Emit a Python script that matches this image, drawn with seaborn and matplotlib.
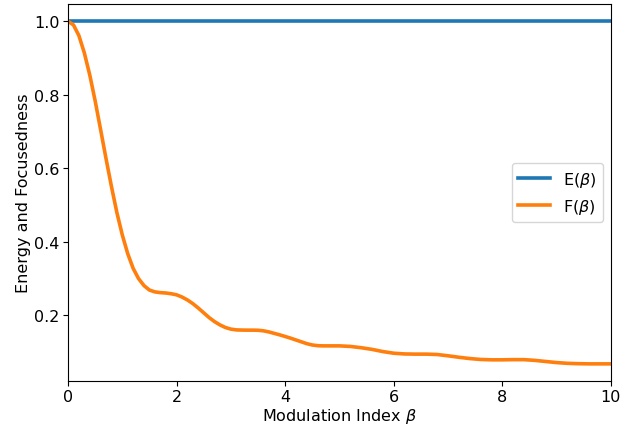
import matplotlib
matplotlib.use("Agg")
import matplotlib.pyplot as plt
import seaborn as sns
import pandas as pd

# Modulation index values
beta = [0.0, 0.1, 0.2, 0.3, 0.4, 0.5, 0.6, 0.7, 0.8, 0.9,
        1.0, 1.1, 1.2, 1.3, 1.4, 1.5, 1.6, 1.7, 1.8, 1.9,
        2.0, 2.1, 2.2, 2.3, 2.4, 2.5, 2.6, 2.7, 2.8, 2.9,
        3.0, 3.1, 3.2, 3.3, 3.4, 3.5, 3.6, 3.7, 3.8, 3.9,
        4.0, 4.1, 4.2, 4.3, 4.4, 4.5, 4.6, 4.7, 4.8, 4.9,
        5.0, 5.2, 5.4, 5.6, 5.8, 6.0, 6.2, 6.4, 6.6, 6.8,
        7.0, 7.2, 7.4, 7.6, 7.8, 8.0, 8.2, 8.4, 8.6, 8.8,
        9.0, 9.2, 9.4, 9.6, 9.8, 10.0]

# Focusedness F(beta)
focus = [1.000, 0.990, 0.961, 0.914, 0.854, 0.783, 0.705, 0.626, 0.550, 0.479,
         0.418, 0.367, 0.327, 0.299, 0.280, 0.268, 0.263, 0.261, 0.260, 0.258,
         0.255, 0.249, 0.241, 0.231, 0.219, 0.206, 0.193, 0.182, 0.173, 0.166,
         0.1616, 0.1595, 0.159, 0.1588, 0.1588, 0.1585, 0.157, 0.154, 0.150, 0.146,
         0.1416, 0.137, 0.132, 0.127, 0.122, 0.1184, 0.1165, 0.116, 0.116, 0.116,
         0.116, 0.1145, 0.111, 0.1065, 0.1005, 0.096, 0.094, 0.0935, 0.0935, 0.0925,
         0.089, 0.085, 0.0815, 0.079, 0.078, 0.078, 0.0785, 0.0785, 0.0765, 0.0735,
         0.0705, 0.0685, 0.0675, 0.067, 0.067, 0.067]

# Energy E(beta) (constant)
energy = [1.0] * len(beta)

labels = ["E($\\beta$)", "F($\\beta$)"]
colors = ["#1f77b4", "#ff7f0e"]

df_e = pd.DataFrame({"beta": beta, "value": energy})
df_f = pd.DataFrame({"beta": beta, "value": focus})

fig = plt.figure(figsize=(6.37, 4.27), dpi=100)
ax = fig.add_axes([0.1068, 0.1054, 0.852, 0.8826])

sns.lineplot(data=df_e, x="beta", y="value", ax=ax, color=colors[0], lw=2.6, label=labels[0])
sns.lineplot(data=df_f, x="beta", y="value", ax=ax, color=colors[1], lw=2.6, label=labels[1])

ax.set_xlim(0, 10)
ax.set_xticks([0, 2, 4, 6, 8, 10])
ax.set_yticks([0.2, 0.4, 0.6, 0.8, 1.0])
ax.tick_params(labelsize=11.5, pad=2.5)
ax.set_xlabel("Modulation Index $\\beta$", fontsize=11.5, labelpad=1)
ax.set_ylabel("Energy and Focusedness", fontsize=11.5, labelpad=2)
ax.legend(loc="center right", fontsize=11.5)

fig.savefig("out.png", dpi=100)
